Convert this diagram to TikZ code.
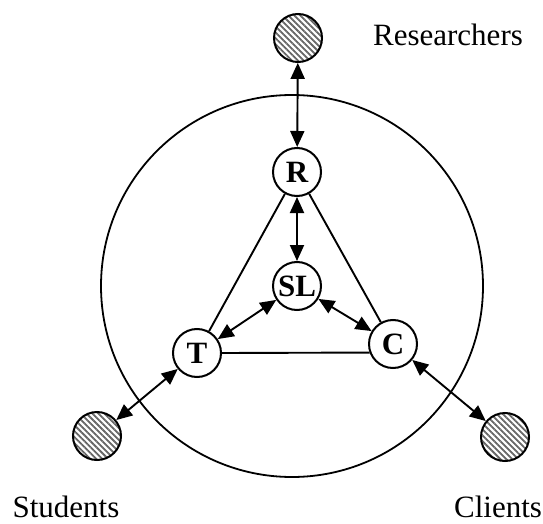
\documentclass[tikz,border=0pt]{standalone}
\usepackage{fontspec}
\setmainfont{Liberation Serif}
\usetikzlibrary{arrows.meta,patterns.meta}
\begin{document}
\begin{tikzpicture}[x=1pt,y=1pt,
  >={Triangle[length=16pt,width=14pt]},
  role/.style={circle,draw,line width=2pt,minimum size=48pt,inner sep=0pt,
    font=\fontsize{31}{34}\selectfont\bfseries},
  group/.style={circle,draw,line width=2pt,minimum size=48pt,inner sep=0pt,
    pattern={Lines[angle=-45,distance=4.2pt,line width=1.8pt]},pattern color=black!60},
  label/.style={anchor=base,font=\fontsize{31}{34}\selectfont},
  link/.style={line width=1.9pt}]
\useasboundingbox (0,0) rectangle (543,523);

% outer boundary
\node (ring) [circle,draw,line width=1.8pt,minimum size=382pt,inner sep=0pt] at (292,237) {};

% core roles
\node (R)  [role] at (297,351) {R};
\node (SL) [role] at (297,237) {SL};
\node (T)  [role] at (197,170) {T};
\node (C)  [role] at (393,179) {C};

% outside groups
\node (res) [group] at (298,485) {};
\node (stu) [group] at (97,87) {};
\node (cli) [group] at (505,86) {};

\node (reslabel) [label] at (448,477) {Researchers};
\node (stulabel) [label] at (66,6) {Students};
\node (clilabel) [label] at (498,6) {Clients};

% triangle sides
\draw[link] (R) -- (T);
\draw[link] (R) -- (C);
\draw[link] (T.east) -- (C.200);

% two-way exchanges
\draw[link,<->] (res) -- (R);
\draw[link,<->] (R) -- (SL);
\draw[link,<->] (SL) -- (T);
\draw[link,<->] (SL) -- (C);
\draw[link,<->] (stu) -- (T);
\draw[link,<->] (cli) -- (C);
\end{tikzpicture}
\end{document}
